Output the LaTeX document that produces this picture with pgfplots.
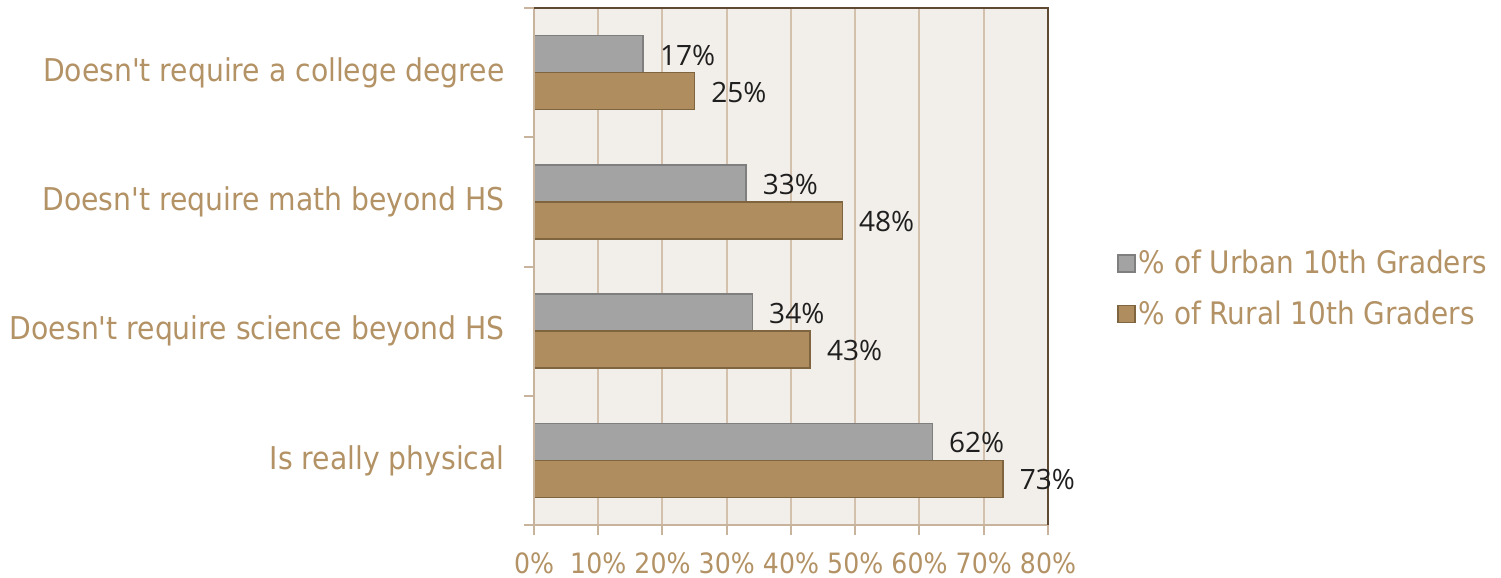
\documentclass[border=0pt]{standalone}
\usepackage{pgfplots}
\pgfplotsset{compat=1.18}
\usepackage{fontspec}
\setmainfont{DejaVu Sans Condensed}
\newfontfamily\labfont{Open Sans}
\definecolor{bgc}{HTML}{F2EEE9}
\definecolor{gridc}{HTML}{D3C1AD}
\definecolor{tanline}{HTML}{C8B49C}
\definecolor{darkline}{HTML}{5E4A33}
\definecolor{grayfill}{HTML}{A3A3A3}
\definecolor{grayedge}{HTML}{7F7F7F}
\definecolor{tanfill}{HTML}{B08D5E}
\definecolor{tanedge}{HTML}{7F6440}
\definecolor{txt}{HTML}{B39265}
\definecolor{dtxt}{HTML}{1F1F1F}
\begin{document}
\begin{tikzpicture}
\useasboundingbox (-267bp,-26.5bp) rectangle (483.5bp,262.5bp);
\begin{axis}[
  at={(0,0)}, anchor=south west,
  scale only axis, width=257bp, height=258.5bp,
  xbar, bar width=18.5bp,
  xmin=0, xmax=80, ymin=-0.5, ymax=3.5,
  clip=false,
  /pgf/number format/assume math mode=true,
  axis background/.style={fill=bgc},
  axis line style={draw=none},
  xtick pos=bottom, ytick pos=left,
  xtick={0,10,...,80},
  xticklabel={\pgfmathprintnumber{\tick}\%},
  xticklabel style={font=\fontsize{14bp}{17bp}\selectfont, text=txt, inner sep=0pt, anchor=north, yshift=-8.5bp},
  ytick={-0.5,0.5,1.5,2.5,3.5},
  yticklabels={},
  extra y ticks={0,1,2,3},
  extra y tick labels={Is really physical, Doesn\textquotesingle t require science beyond HS, Doesn\textquotesingle t require math beyond HS, Doesn\textquotesingle t require a college degree},
  extra y tick style={tick style={draw=none}, grid=none},
  yticklabel style={font=\fontsize{15.7bp}{18bp}\selectfont, text=txt, inner sep=0pt, anchor=east, xshift=-9.5bp},
  tick align=outside,
  major tick length=5bp,
  tick style={tanline, line width=1bp},
  xmajorgrids, grid style={gridc, line width=1bp},
  point meta=x,
  nodes near coords={\pgfmathprintnumber{\pgfplotspointmeta}\%},
  nodes near coords align={horizontal},
  every node near coord/.append style={font=\labfont\fontsize{14bp}{17bp}\selectfont, text=dtxt, inner sep=0pt, anchor=west, xshift=8bp, yshift=-0.5bp},
  legend image code/.code={\draw[#1, line width=0.8bp] (0bp,-4.25bp) rectangle (8.5bp,4.25bp);},
  legend style={at={(rel axis cs:1.134,0.457)}, anchor=west, draw=none, fill=none,
    font=\fontsize{15.5bp}{18bp}\selectfont, text=txt, row sep=9bp, inner sep=0pt,
    nodes={inner sep=1.5bp}, /tikz/every even column/.style={column sep=2.5bp}},
  legend cell align=left,
]
\addplot[bar shift=9.25bp, draw=grayedge, fill=grayfill, line width=0.8bp]
  coordinates {(62,0) (34,1) (33,2) (17,3)};
\addplot[bar shift=-9.25bp, draw=tanedge, fill=tanfill, line width=0.8bp]
  coordinates {(73,0) (43,1) (48,2) (25,3)};
\legend{\% of Urban 10th Graders, \% of Rural 10th Graders}
\draw[tanline, line width=1bp] (rel axis cs:0,1) -- (rel axis cs:0,0) -- (rel axis cs:1,0);
\draw[darkline, line width=0.8bp] (rel axis cs:0,1) -- (rel axis cs:1,1) -- (rel axis cs:1,0);
\end{axis}
\end{tikzpicture}
\end{document}
